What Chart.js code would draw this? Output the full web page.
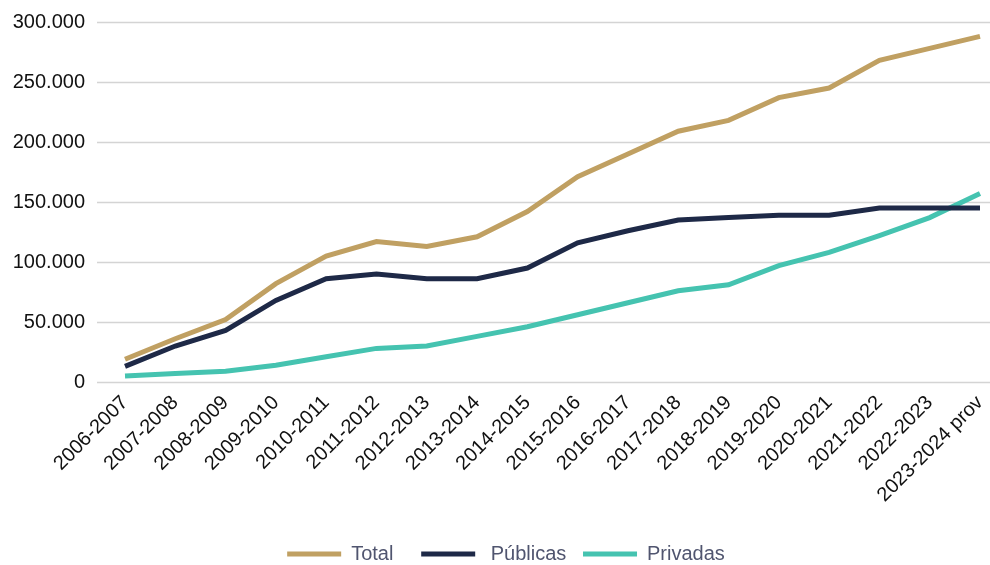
<!DOCTYPE html>
<html>
<head>
<meta charset="utf-8">
<script src="https://cdn.jsdelivr.net/npm/chart.js@4.4.1/dist/chart.umd.min.js"></script>
<style>
    html, body { margin: 0; padding: 0; background: #fff; }
    #chart { display: block; }
</style>
</head>
<body>
<canvas id="chart" width="990" height="565"></canvas>
<script>
// Academic years
const years = [
    '2006-2007', '2007-2008', '2008-2009', '2009-2010', '2010-2011', '2011-2012',
    '2012-2013', '2013-2014', '2014-2015', '2015-2016', '2016-2017', '2017-2018',
    '2018-2019', '2019-2020', '2020-2021', '2021-2022', '2022-2023', '2023-2024 prov'
];

// Values
const total = [19000, 36000, 52000, 82000, 105000, 117000, 113000, 121000, 142000,
    171000, 190000, 209000, 218000, 237000, 245000, 268000, 278000, 288000];
const publicas = [13000, 30000, 43000, 68000, 86000, 90000, 86000, 86000, 95000,
    116000, 126000, 135000, 137000, 139000, 139000, 145000, 145000, 145000];
const privadas = [5000, 7000, 9000, 14000, 21000, 28000, 30000, 38000, 46000,
    56000, 66000, 76000, 81000, 97000, 108000, 122000, 137000, 157000];

const yTicks = [0, 50000, 100000, 150000, 200000, 250000, 300000];

const fmt = v => v.toLocaleString('de-DE');

// Horizontal grid lines that run a bit past the plot area, like the original
const wideGrid = {
    id: 'wideGrid',
    afterLayout(chart) {
        // nudge the legend a little right and down
        chart.legend.left += 10;
        chart.legend.right += 10;
        chart.legend.top += 9;
        chart.legend.bottom += 9;
    },
    beforeDatasetsDraw(chart) {
        const { ctx, chartArea, scales } = chart;
        ctx.save();
        ctx.strokeStyle = '#d4d4d4';
        ctx.lineWidth = 1.5;
        yTicks.forEach(t => {
            const y = Math.round(scales.y.getPixelForValue(t)) + 0.5;
            ctx.beginPath();
            ctx.moveTo(chartArea.left - 28, y);
            ctx.lineTo(chartArea.right + 10, y);
            ctx.stroke();
        });
        ctx.restore();
    }
};

const line = (label, data, color) => ({
    label: label,
    data: data,
    borderColor: color,
    backgroundColor: color,
    borderWidth: 5,
    pointRadius: 0,
    tension: 0,
    fill: false
});

new Chart(document.getElementById('chart'), {
    type: 'line',
    data: {
        labels: years,
        datasets: [
            // spaces keep the uneven gaps of the original legend
            line('Total     ', total, '#c0a062'),
            line(' Públicas   ', publicas, '#1e2947'),
            line('Privadas', privadas, '#45c3b0')
        ]
    },
    options: {
        responsive: false,
        animation: false,
        layout: {
            padding: { top: 0, right: 10, left: 12, bottom: 0 }
        },
        plugins: {
            legend: {
                position: 'bottom',
                labels: {
                    boxWidth: 54,
                    boxHeight: 5,
                    padding: 0,
                    color: '#50556f',
                    font: { family: 'Liberation Sans', size: 20 },
                    generateLabels(chart) {
                        return Chart.defaults.plugins.legend.labels.generateLabels(chart)
                            .map(l => Object.assign(l, { lineWidth: 0 }));
                    }
                }
            },
            tooltip: { enabled: false }
        },
        scales: {
            x: {
                offset: false,
                grid: { display: false, drawTicks: false },
                border: { display: false },
                afterFit(scale) {
                    // let the y axis decide the left edge, not the rotated first label
                    scale.paddingLeft = 0;
                    scale.paddingRight = 0;
                    scale.paddingTop = 0;
                    scale.paddingBottom = 0;
                    scale.height = 153;
                },
                ticks: {
                    minRotation: 45,
                    maxRotation: 45,
                    autoSkip: false,
                    padding: 9,
                    color: '#111',
                    font: { family: 'Liberation Sans', size: 20 }
                }
            },
            y: {
                min: 0,
                max: 300000,
                afterBuildTicks(scale) {
                    scale.ticks = yTicks.map(v => ({ value: v }));
                },
                afterFit(scale) {
                    scale.width = 113;
                    scale.paddingTop = 22;
                    scale.paddingBottom = 0;
                },
                grid: { display: false, drawTicks: false },
                border: { display: false },
                ticks: {
                    padding: 40,
                    color: '#111',
                    font: { family: 'Liberation Sans', size: 20 },
                    callback: v => fmt(v)
                }
            }
        }
    },
    plugins: [wideGrid]
});
</script>
</body>
</html>
